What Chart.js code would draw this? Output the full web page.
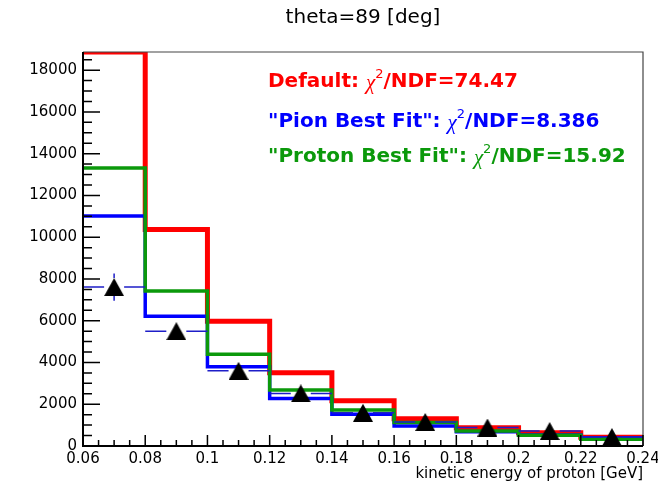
<!DOCTYPE html>
<html>
<head>
<meta charset="utf-8">
<script src="https://cdn.jsdelivr.net/npm/chart.js@4.4.0/dist/chart.umd.min.js"></script>
<style>
html,body{margin:0;padding:0;background:#fff;}
canvas{display:block;}
</style>
</head>
<body>
<canvas id="c" width="658" height="485"></canvas>
<script>
// ---- data ----
const binEdges = [0.06, 0.08, 0.10, 0.12, 0.14, 0.16, 0.18, 0.20, 0.22, 0.24];
const defaultVals = [18870, 10370, 5980, 3510, 2170, 1310, 880, 640, 420];
const pionVals    = [11020, 6220, 3800, 2280, 1520, 960, 680, 530, 380];
const protonVals  = [13320, 7420, 4400, 2680, 1720, 1120, 720, 510, 320];
const dataVals    = [7610, 5500, 3600, 2520, 1590, 1150, 885, 718, 430];
const dataErr     = [650, 300, 220, 180, 140, 120, 100, 90, 70];
const xTickLabels = ['0.06','0.08','0.1','0.12','0.14','0.16','0.18','0.2','0.22','0.24'];
const yTickLabels = ['0','2000','4000','6000','8000','10000','12000','14000','16000','18000'];
const fitNames  = ['Default:', '"Pion Best Fit":', '"Proton Best Fit":'];
const fitChi2   = ['74.47', '8.386', '15.92'];
const fitColors = ['#ff0000', '#0000ff', '#0b990b'];
const chartTitle = 'theta=89 [deg]';
const xTitle = 'kinetic energy of proton [GeV]';
const yMax = 18870;

function histPoints(vals) {
  const pts = [];
  vals.forEach((v, i) => {
    pts.push({x: binEdges[i], y: v});
    pts.push({x: binEdges[i + 1], y: v});
  });
  return pts;
}
const centers = vals => vals.map((v, i) => ({x: (binEdges[i] + binEdges[i + 1]) / 2, y: v}));

// triangle marker, box-centred
const tri = document.createElement('canvas');
tri.width = 20; tri.height = 18;
(function(){
  const g = tri.getContext('2d');
  g.fillStyle = '#000';
  g.beginPath(); g.moveTo(0, 18); g.lineTo(10, 0); g.lineTo(20, 18); g.closePath(); g.fill();
})();

const FONT = 'DejaVu Sans';

const rootPlugin = {
  id: 'rootStyle',
  afterDatasetsDraw(chart) {
    const {ctx, chartArea: a, scales: {x, y}} = chart;
    ctx.save();
    // data error bars
    ctx.strokeStyle = 'rgb(30,30,200)';
    ctx.lineWidth = 1.5;
    dataVals.forEach((v, i) => {
      const x0 = x.getPixelForValue(binEdges[i]);
      const x1 = x.getPixelForValue(binEdges[i + 1]);
      const cx = x.getPixelForValue((binEdges[i] + binEdges[i + 1]) / 2);
      const py = y.getPixelForValue(v);
      const ptop = y.getPixelForValue(v + dataErr[i]);
      const pbot = y.getPixelForValue(v - dataErr[i]);
      ctx.beginPath();
      ctx.moveTo(x0, py); ctx.lineTo(cx - 10, py);
      ctx.moveTo(cx + 10, py); ctx.lineTo(x1, py);
      if (py - ptop > 9) { ctx.moveTo(cx, ptop); ctx.lineTo(cx, py - 9); ctx.moveTo(cx, py + 9); ctx.lineTo(cx, pbot); }
      ctx.stroke();
    });
    // frame
    ctx.strokeStyle = '#444';
    ctx.lineWidth = 1.2;
    ctx.beginPath();
    ctx.moveTo(a.left, a.top); ctx.lineTo(a.right, a.top); ctx.lineTo(a.right, a.bottom);
    ctx.stroke();
    ctx.strokeStyle = '#000';
    ctx.lineWidth = 2;
    ctx.beginPath();
    ctx.moveTo(a.left, a.top); ctx.lineTo(a.left, a.bottom); ctx.lineTo(a.right, a.bottom);
    ctx.stroke();
    // ticks
    ctx.lineWidth = 1.5;
    ctx.beginPath();
    for (let k = 0; k * 500 <= yMax; k++) {
      const py = y.getPixelForValue(k * 500);
      const len = (k % 4 === 0) ? 17 : 9;
      ctx.moveTo(a.left, py); ctx.lineTo(a.left + len, py);
    }
    for (let k = 0; k <= 36; k++) {
      const px = x.getPixelForValue(0.06 + k * 0.005);
      const len = (k % 4 === 0) ? 11 : 6;
      ctx.moveTo(px, a.bottom); ctx.lineTo(px, a.bottom - len);
    }
    ctx.stroke();
    // fit labels
    const lx = 268, ly = [82, 122, 157];
    ctx.textBaseline = 'middle';
    ctx.textAlign = 'left';
    fitNames.forEach((name, i) => {
      ctx.fillStyle = fitColors[i];
      let cx = lx;
      const parts = [
        {t: name + ' ', f: 'bold 20px ' + FONT, dy: 0},
        {t: 'χ', f: 'italic 21px "Liberation Serif"', dy: 1},
        {t: '2', f: '13px ' + FONT, dy: -7},
        {t: '/NDF=' + fitChi2[i], f: 'bold 20px ' + FONT, dy: 0}
      ];
      parts.forEach(p => {
        ctx.font = p.f;
        ctx.fillText(p.t, cx, ly[i] + p.dy);
        cx += ctx.measureText(p.t).width;
      });
    });
    ctx.restore();
  }
};

new Chart(document.getElementById('c').getContext('2d'), {
  type: 'line',
  data: {
    datasets: [
      {data: centers(dataVals), showLine: false, pointStyle: tri, pointRadius: 10, order: 0},
      {data: histPoints(protonVals), borderColor: fitColors[2], borderWidth: 3.5, pointRadius: 0, order: 1},
      {data: histPoints(pionVals), borderColor: fitColors[1], borderWidth: 3.5, pointRadius: 0, order: 2},
      {data: histPoints(defaultVals), borderColor: fitColors[0], borderWidth: 5, pointRadius: 0, order: 3}
    ]
  },
  options: {
    responsive: false,
    animation: false,
    events: [],
    elements: {line: {tension: 0, borderJoinStyle: 'miter', borderCapStyle: 'butt', fill: false}},
    layout: {padding: {left: 0, right: 15, top: 0, bottom: 0}},
    plugins: {
      legend: {display: false},
      tooltip: {enabled: false},
      title: {display: true, text: chartTitle, fullSize: false, color: '#000',
              font: {family: FONT, size: 20, weight: 'normal'}, padding: {top: 6, bottom: 22}}
    },
    scales: {
      x: {
        type: 'linear', min: 0.06, max: 0.24, bounds: 'data',
        grid: {display: false, drawTicks: false, tickLength: 0},
        border: {display: false},
        ticks: {autoSkip: false, maxRotation: 0, color: '#000', padding: 4,
                font: {family: FONT, size: 15},
                callback: (v, i) => xTickLabels[i]},
        afterBuildTicks: s => { s.ticks = xTickLabels.map(l => ({value: Number(l)})); },
        title: {display: true, text: xTitle, align: 'end', color: '#000',
                font: {family: FONT, size: 15}, padding: {top: 0, bottom: 2}},
        afterFit: s => { s.height = 39; s.paddingLeft = 0; s.paddingRight = 0; }
      },
      y: {
        type: 'linear', min: 0, max: yMax, bounds: 'data',
        grid: {display: false, drawTicks: false, tickLength: 0},
        border: {display: false},
        ticks: {autoSkip: false, color: '#000', padding: 6,
                font: {family: FONT, size: 15},
                callback: (v, i) => yTickLabels[i]},
        afterBuildTicks: s => { s.ticks = yTickLabels.map(l => ({value: Number(l)})); },
        afterFit: s => { s.width = 83; s.paddingTop = 0; s.paddingBottom = 0; }
      }
    }
  },
  plugins: [rootPlugin]
});
</script>
</body>
</html>
